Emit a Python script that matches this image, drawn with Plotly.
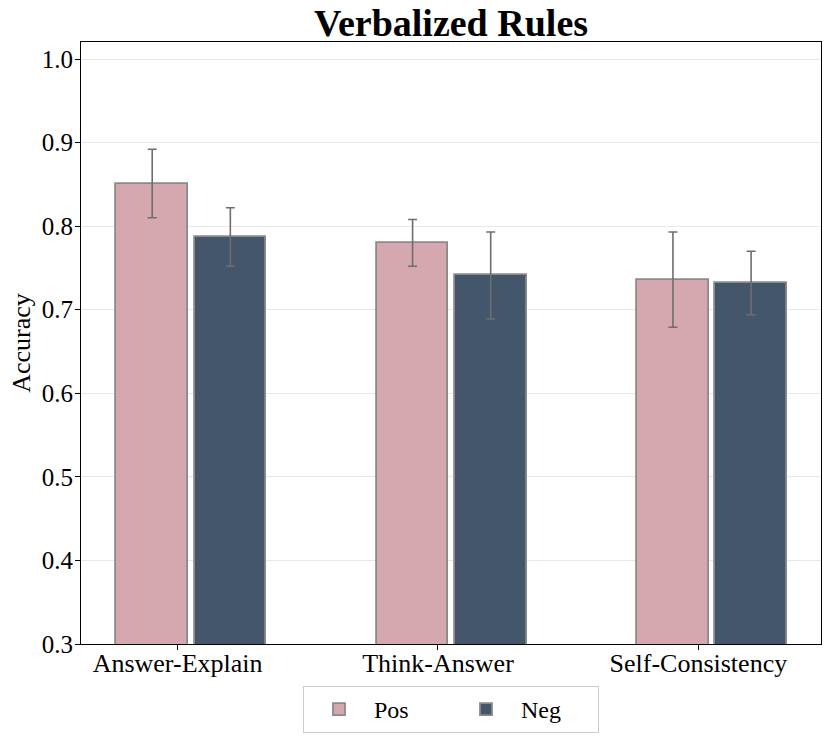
import plotly.graph_objects as go

categories = ["Answer-Explain", "Think-Answer", "Self-Consistency"]
pos_values = [0.851, 0.780, 0.736]
pos_errors = [0.041, 0.028, 0.057]
neg_values = [0.787, 0.741, 0.732]
neg_errors = [0.035, 0.052, 0.038]
y_ticks = [0.3, 0.4, 0.5, 0.6, 0.7, 0.8, 0.9, 1.0]

FONT = "Liberation Serif, Times New Roman, serif"
POS_COLOR = "#d5a7ae"
NEG_COLOR = "#44566b"
EDGE = "#8a8a8a"
ERR = "#6e6e6e"

W, H = 830, 736

fig = go.Figure()
fig.add_trace(go.Bar(
    x=categories, y=pos_values, name="Pos",
    offset=-0.235, width=0.275,
    marker=dict(color=POS_COLOR, line=dict(color=EDGE, width=1.8)),
    error_y=dict(type="data", array=pos_errors, color=ERR, thickness=1.6, width=4.5),
))
fig.add_trace(go.Bar(
    x=categories, y=neg_values, name="Neg",
    offset=0.065, width=0.275,
    marker=dict(color=NEG_COLOR, line=dict(color=EDGE, width=1.8)),
    error_y=dict(type="data", array=neg_errors, color=ERR, thickness=1.6, width=4.5),
))

fig.update_layout(
    width=W, height=H,
    margin=dict(l=81, r=9, t=42, b=92, autoexpand=False),
    paper_bgcolor="white", plot_bgcolor="white",
    font=dict(family=FONT, size=25, color="black"),
    title=dict(text="<b>Verbalized Rules</b>", xref="paper", x=0.5, xanchor="center",
               yref="container", y=1 - 23 / H, yanchor="middle",
               font=dict(family=FONT, size=38, color="black")),
    showlegend=True,
    legend=dict(orientation="h", xref="paper", x=0.5, xanchor="center",
                yref="container", y=1 - 686 / H, yanchor="top",
                bordercolor="#cccccc", borderwidth=1, bgcolor="white",
                font=dict(family=FONT, size=24), itemwidth=60,
                entrywidth=72),
    bargap=0,
)
fig.update_xaxes(
    type="category", range=[-0.371, 2.471], automargin=False,
    showline=True, linecolor="black", linewidth=1.2, mirror=True,
    ticks="outside", ticklen=5, tickcolor="black", ticklabelstandoff=-9,
    showgrid=False, tickfont=dict(family=FONT, size=26),
)
fig.update_yaxes(
    range=[0.3, 1.0204], tickvals=y_ticks, tickformat=".1f", automargin=False,
    showline=True, linecolor="black", linewidth=1.2, mirror=True,
    ticks="outside", ticklen=5, tickcolor="black", ticklabelstandoff=-3,
    showgrid=True, gridcolor="#e8e8e8", gridwidth=1,
    zeroline=False,
    title=dict(text="Accuracy", font=dict(family=FONT, size=26), standoff=3),
    tickfont=dict(family=FONT, size=25),
)

fig.write_html("out.html", config={"displayModeBar": False},
               post_script="document.body.style.margin='0';")
